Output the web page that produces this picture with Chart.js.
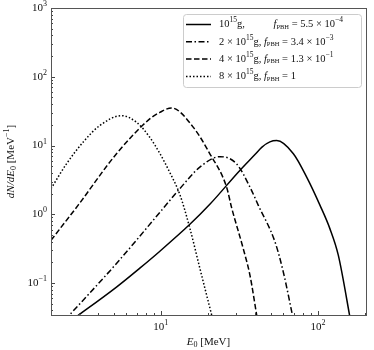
<!DOCTYPE html>
<html>
<head>
<meta charset="utf-8">
<script src="https://cdn.jsdelivr.net/npm/chart.js@4.4.1/dist/chart.umd.min.js"></script>
<style>
  html, body { margin: 0; padding: 0; background: #fff; }
  canvas { display: block; }
</style>
</head>
<body>
<canvas id="chart" width="374" height="350"></canvas>
<script>
// -----------------------------
// Data
// -----------------------------
const e1 = [2.71, 5.22, 7.35, 9.86, 15.3, 20.5, 31.8, 39.7, 44.0, 49.4, 54.6, 69.7, 84.7, 103, 119, 134.6, 163];
const y1 = [0.029, 0.0875, 0.165, 0.291, 0.716, 1.40, 4.35, 7.41, 9.5, 11.3, 11.8, 7.6, 3.47, 1.35, 0.62, 0.255, 0.0245];

const e2 = [2.45, 5.22, 9.86, 13.2, 17.7, 23.8, 30.3, 36.9, 41.7, 53.2, 60.1, 70];
const y2 = [0.029, 0.193, 1.07, 2.36, 4.85, 6.9, 5.43, 2.49, 1.35, 0.4, 0.146, 0.028];

const e4 = [2.0, 2.97, 5.22, 8.5, 9.86, 11.7, 16.1, 20.5, 26.2, 28.2, 33.4, 36.9, 41.2];
const y4 = [0.42, 1.35, 7.6, 24.4, 30.4, 35.2, 18.4, 7.6, 2.49, 1.25, 0.32, 0.13, 0.029];

const e8 = [2.0, 2.51, 3.2, 4.08, 5.62, 7.0, 8.5, 9.86, 11.4, 13.2, 15.3, 17.7, 21.3];
const y8 = [2.36, 5.43, 11.2, 19.5, 27.2, 21.8, 13.2, 7.66, 4.06, 1.95, 0.627, 0.165, 0.031];

// legend text pieces
const massCoeff = ['', '2', '4', '8'];
const fMant = ['5.5', '3.4', '1.3', '1'];
const fExp = ['\u22124', '\u22123', '\u22121', null];

// axis ticks (decades)
const xMajor = [10, 100];
const yMajor = [0.1, 1, 10, 100, 1000];

const SERIF = '"Liberation Serif", "DejaVu Serif", serif';
const fn = (size, style) => (style ? style + ' ' : '') + size + 'px ' + SERIF;

// -----------------------------
// Rich text helper (super/subscripts)
// -----------------------------
function drawRich(ctx, parts, x, y, align) {
  let w = 0;
  parts.forEach(p => { ctx.font = p[1]; w += p[0] === null ? p[2] : ctx.measureText(p[0]).width; });
  let cx = align === 'right' ? x - w : align === 'center' ? x - w / 2 : x;
  parts.forEach(p => {
    if (p[0] === null) { cx += p[2]; return; }
    ctx.font = p[1];
    ctx.fillText(p[0], cx, y + (p[2] || 0));
    cx += ctx.measureText(p[0]).width;
  });
}

function expOf(v) {
  const e = Math.round(Math.log10(v));
  return String(e).replace('-', '\u2212');
}

// -----------------------------
// Axes: frame, inward ticks, labels, titles
// -----------------------------
const axesPlugin = {
  id: 'axesPlugin',
  afterDraw(chart) {
    const { ctx, chartArea: a, scales } = chart;
    const xs = scales.x, ys = scales.y;
    ctx.save();
    ctx.strokeStyle = '#444';
    ctx.lineWidth = 1;

    // minor + major ticks, inward, left and bottom only
    ctx.beginPath();
    for (let d = -2; d <= 3; d++) {
      for (let m = 1; m <= 9; m++) {
        const v = m * Math.pow(10, d);
        const len = m === 1 ? 4 : 2;
        if (v >= xs.min && v <= xs.max) {
          const px = Math.round(xs.getPixelForValue(v)) + 0.5;
          ctx.moveTo(px, a.bottom); ctx.lineTo(px, a.bottom - len);
        }
        if (v >= ys.min && v <= ys.max) {
          const py = Math.round(ys.getPixelForValue(v)) + 0.5;
          ctx.moveTo(a.left, py); ctx.lineTo(a.left + len, py);
        }
      }
    }
    ctx.stroke();

    // frame
    ctx.strokeStyle = '#555';
    ctx.strokeRect(Math.round(a.left) + 0.5, Math.round(a.top) + 0.5,
      Math.round(a.right - a.left), Math.round(a.bottom - a.top));

    // tick labels
    ctx.fillStyle = '#111';
    ctx.textBaseline = 'middle';
    xMajor.forEach(v => {
      drawRich(ctx, [['10', fn(11)], [expOf(v), fn(8), -4]],
        xs.getPixelForValue(v), a.bottom + 12, 'center');
    });
    yMajor.forEach(v => {
      drawRich(ctx, [['10', fn(11)], [expOf(v), fn(8), -4]],
        a.left - 4, ys.getPixelForValue(v), 'right');
    });

    // x title
    drawRich(ctx, [['E', fn(11, 'italic')], ['0', fn(8), 3], [' [MeV]', fn(11)]],
      (a.left + a.right) / 2, a.bottom + 27, 'center');

    // y title
    ctx.translate(11, (a.top + a.bottom) / 2);
    ctx.rotate(-Math.PI / 2);
    drawRich(ctx, [['dN/dE', fn(11, 'italic')], ['0', fn(8), 3], [' [MeV', fn(11)],
      ['\u22121', fn(8), -4], [']', fn(11)]], 0, 0, 'center');
    ctx.restore();
  }
};

// -----------------------------
// Legend (upper right)
// -----------------------------
const legendPlugin = {
  id: 'legendPlugin',
  afterDraw(chart) {
    const { ctx } = chart;
    const bx = 183, by = 14, bw = 178, bh = 73;
    ctx.save();
    ctx.fillStyle = 'rgba(255,255,255,0.85)';
    ctx.strokeStyle = '#cccccc';
    ctx.lineWidth = 1;
    ctx.beginPath();
    ctx.roundRect(bx + 0.5, by + 0.5, bw, bh, 3);
    ctx.fill();
    ctx.stroke();

    chart.data.datasets.forEach((ds, i) => {
      const ry = 24.5 + i * 17.3;
      ctx.strokeStyle = ds.borderColor;
      ctx.lineWidth = ds.borderWidth;
      ctx.setLineDash(ds.borderDash);
      ctx.beginPath();
      ctx.moveTo(186, ry); ctx.lineTo(211, ry);
      ctx.stroke();
      ctx.setLineDash([]);

      ctx.fillStyle = '#111';
      ctx.textBaseline = 'middle';
      const parts = [];
      parts.push([massCoeff[i] ? massCoeff[i] + ' \u00d7 10' : '10', fn(10.5)]);
      parts.push(['15', fn(7.5), -4]);
      parts.push(['g, ', fn(10.5)]);
      if (!massCoeff[i]) parts.push([null, fn(10.5), 26]);
      parts.push(['f', fn(10.5, 'italic')]);
      parts.push(['PBH', fn(6.5), 2.5]);
      parts.push([' = ' + fMant[i] + (fExp[i] ? ' \u00d7 10' : ''), fn(10.5)]);
      if (fExp[i]) parts.push([fExp[i], fn(7.5), -4]);
      drawRich(ctx, parts, 219, ry, 'left');
    });
    ctx.restore();
  }
};

// -----------------------------
// Chart
// -----------------------------
const pts = (es, ys) => es.map((e, i) => ({ x: e, y: ys[i] }));
const line = (label, es, ys, dash) => ({
  label, data: pts(es, ys),
  borderColor: '#000', borderWidth: 1.5, borderDash: dash,
  pointRadius: 0, fill: false, cubicInterpolationMode: 'monotone'
});

new Chart(document.getElementById('chart').getContext('2d'), {
  type: 'line',
  data: {
    datasets: [
      line('1e15 g', e1, y1, []),
      line('2e15 g', e2, y2, [6, 2.5, 1.5, 2.5]),
      line('4e15 g', e4, y4, [5.5, 2.5]),
      line('8e15 g', e8, y8, [1.5, 2])
    ]
  },
  options: {
    responsive: false,
    animation: false,
    layout: { padding: { left: 0, right: 8, top: 8, bottom: 0 } },
    plugins: { legend: { display: false }, tooltip: { enabled: false } },
    scales: {
      x: {
        type: 'logarithmic', min: 2, max: 202,
        grid: { display: false }, border: { display: false },
        ticks: { display: false },
        afterFit: s => { s.height = 35; }
      },
      y: {
        type: 'logarithmic', min: 0.0344, max: 1000,
        grid: { display: false }, border: { display: false },
        ticks: { display: false },
        afterFit: s => { s.width = 51; }
      }
    }
  },
  plugins: [axesPlugin, legendPlugin]
});
</script>
</body>
</html>
